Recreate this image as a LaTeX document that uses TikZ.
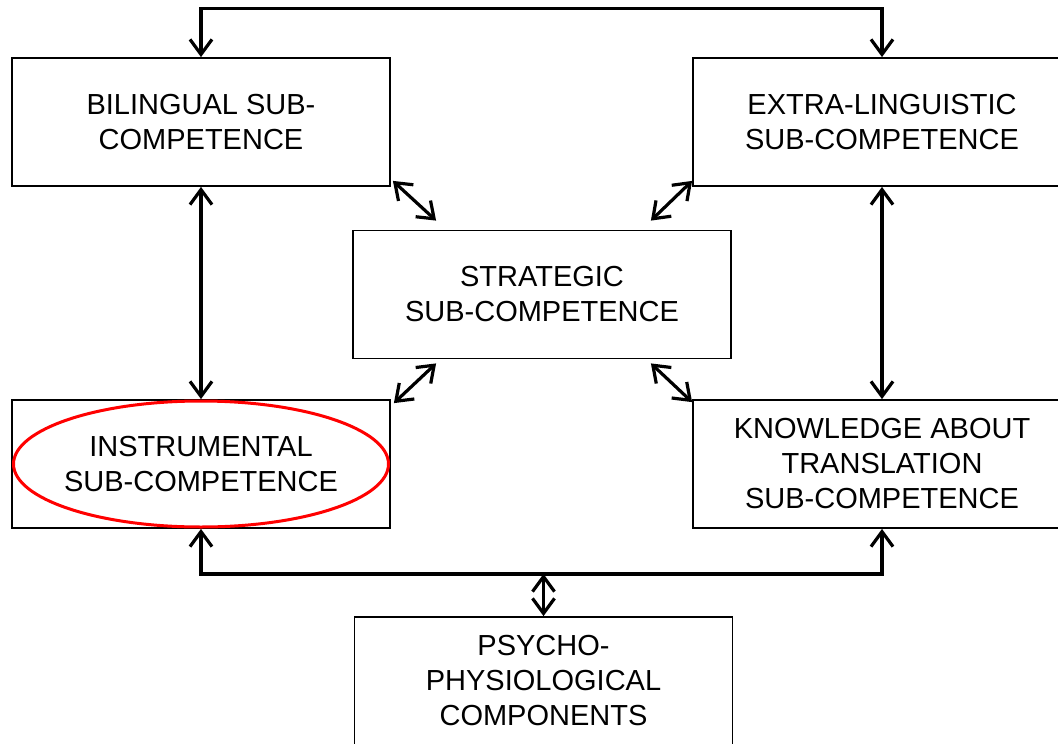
\documentclass[tikz,border=0pt]{standalone}
\usepackage{fontspec}
\setmainfont{Liberation Sans}
\usetikzlibrary{arrows.meta,shapes.geometric,calc}
\begin{document}
\begin{tikzpicture}[x=1pt,y=-1pt,
  box/.style={draw, line width=1.8pt, minimum width=378pt, minimum height=128pt,
    inner sep=0pt, align=center, font=\fontsize{29}{35}\selectfont},
  link/.style={line width=3.2pt},
  >={Straight Barb[length=15pt,width=22pt]},
  ring/.style={draw=red, line width=3pt, ellipse, minimum width=375pt,
    minimum height=126pt, inner sep=0pt}
]
\useasboundingbox (0,0) rectangle (1058,744);
\clip (0,0) rectangle (1058,744);

\node[box] (bil) at (201,122)   {BILINGUAL SUB-\\COMPETENCE};
\node[box] (ext) at (882,122)   {EXTRA-LINGUISTIC\\SUB-COMPETENCE};
\node[box] (str) at (542,294.5) {STRATEGIC\\SUB-COMPETENCE};
\node[box] (ins) at (201,464)   {INSTRUMENTAL\\SUB-COMPETENCE};
\node[box] (kno) at (882,464)   {KNOWLEDGE ABOUT\\TRANSLATION\\SUB-COMPETENCE};
\node[box] (psy) at (543.5,681) {PSYCHO-\\PHYSIOLOGICAL\\COMPONENTS};

\node[ring] (ell) at (ins.center) {};

% top connector
\coordinate (tl) at ($(bil.north)+(0,-49)$);
\draw[link,<->] (bil.north) -- (tl) -| (ext.north);

% vertical connectors
\draw[link,<->] (bil.south) -- (ins.north);
\draw[link,<->] (ext.south) -- (kno.north);

% diagonal connectors
\draw[link,<->] ([shift={(2,-6)}]bil.south east) -- ([shift={(84,-9)}]str.north west);
\draw[link,<->] ([shift={(0,-6)}]ext.south west) -- ([shift={(-81,-9)}]str.north east);
\draw[link,<->] ([shift={(84,4)}]str.south west) -- ([shift={(3,4)}]ins.north east);
\draw[link,<->] ([shift={(-81,4)}]str.south east) -- ([shift={(0,3)}]kno.north west);

% bottom connector
\coordinate (bl) at ($(ins.south)+(0,45)$);
\draw[link,<->] (ins.south) -- (bl) -| (kno.south);
\coordinate (pj) at (psy.north |- bl);
\draw[link,<->] (pj) -- (psy.north);
\end{tikzpicture}
\end{document}
